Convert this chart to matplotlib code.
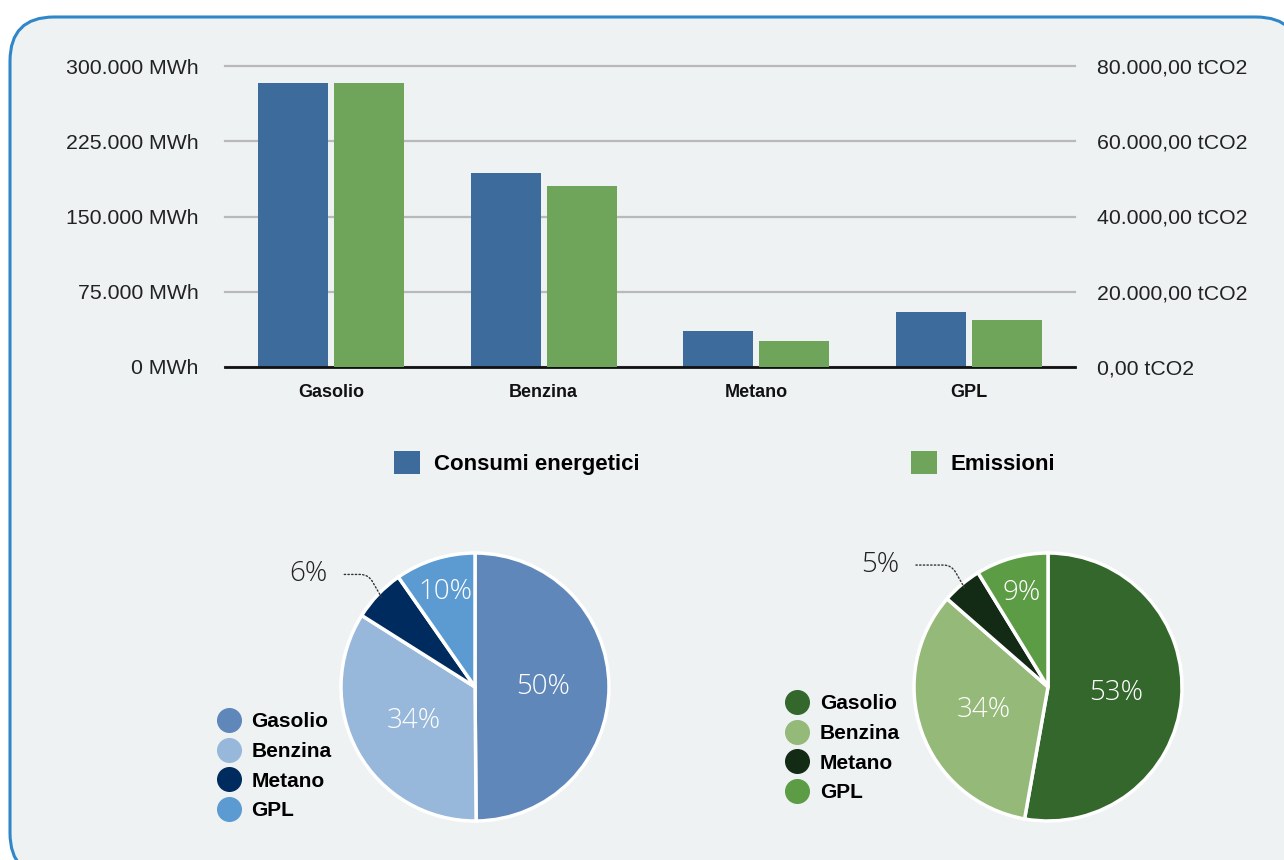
import numpy as np
import matplotlib
matplotlib.use("Agg")
import matplotlib.pyplot as plt
from matplotlib import font_manager
from matplotlib.font_manager import FontProperties
from matplotlib.patches import FancyBboxPatch
from matplotlib.lines import Line2D

# Dati
categorie = ["Gasolio", "Benzina", "Metano", "GPL"]
consumi_mwh = [283000, 193500, 36000, 55000]
emissioni_tco2 = [75500, 48100, 6900, 12500]

tick_mwh = [0, 75000, 150000, 225000, 300000]
tick_tco2 = [0, 20000, 40000, 60000, 80000]

col_consumi = "#3d6b9b"
col_emissioni = "#6fa55a"
colori_pie_consumi = ["#5f87b9", "#97b8da", "#002b5e", "#5b9bd1"]
colori_pie_emissioni = ["#33672c", "#94b978", "#132b15", "#5c9c45"]

W, H = 1284, 860


def has_font(name):
    try:
        font_manager.findfont(name, fallback_to_default=False)
        return True
    except Exception:
        return False


def light_font():
    # cerca un carattere "light" per le percentuali delle torte
    for fam in ("Roboto", "Lato", "Open Sans"):
        try:
            f = font_manager.findfont(FontProperties(family=fam, weight="light"),
                                      fallback_to_default=False)
            if "light" in f.lower():
                return fam, "light"
        except Exception:
            pass
    return FONT, "normal"


FONT = "Liberation Sans" if has_font("Liberation Sans") else "DejaVu Sans"
FONT_NARROW = "Liberation Sans Narrow" if has_font("Liberation Sans Narrow") else FONT
PCT_FAM, PCT_W = light_font()
plt.rcParams["font.family"] = [FONT, "DejaVu Sans"]


def px_rect(x0, y0, x1, y1):
    # rettangolo in pixel (origine in alto a sinistra) -> coordinate figura
    return [x0 / W, 1 - y1 / H, (x1 - x0) / W, (y1 - y0) / H]


def fmt_mwh(v):
    return f"{v:,.0f}".replace(",", ".") + " MWh"


def fmt_tco2(v):
    s = f"{v:,.2f}".replace(",", "X").replace(".", ",").replace("X", ".")
    return s + " tCO2"


fig = plt.figure(figsize=(W / 100, H / 100), dpi=100)
fig.patch.set_facecolor("white")

# Riquadro di sfondo arrotondato
bg = fig.add_axes([0, 0, 1, 1], zorder=-5)
bg.set_xlim(0, W)
bg.set_ylim(H, 0)
bg.axis("off")
bg.add_patch(FancyBboxPatch((10, 17), 1290, 860, boxstyle="round,pad=0,rounding_size=44",
                            facecolor="#eef2f3", edgecolor="#2f86c8", linewidth=2.2))

# ---------------- Istogramma ----------------
ax = fig.add_axes(px_rect(225, 66, 1075, 367))
ax2 = ax.twinx()
x = np.arange(len(categorie))
larg = 0.33
b1 = ax.bar(x - 0.178, consumi_mwh, width=larg, color=col_consumi, label="Consumi energetici", zorder=3)
b2 = ax2.bar(x + 0.178, emissioni_tco2, width=larg, color=col_emissioni, label="Emissioni", zorder=3)

ax.set_xlim(-0.5, len(categorie) - 0.5)
ax.set_ylim(0, 300000)
ax2.set_ylim(0, 80000)
ax.set_yticks(tick_mwh)
ax.set_yticklabels([fmt_mwh(v) for v in tick_mwh])
ax2.set_yticks(tick_tco2)
ax2.set_yticklabels([fmt_tco2(v) for v in tick_tco2])
ax.set_xticks(x)
ax.set_xticklabels(categorie, fontfamily=FONT_NARROW, fontweight="bold")

for a in (ax, ax2):
    a.set_facecolor("none")
    for s in ("top", "left", "right", "bottom"):
        a.spines[s].set_visible(False)
    a.tick_params(length=0)
    a.tick_params(axis="y", labelsize=15.3, colors="#222222")
ax.spines["bottom"].set_visible(True)
ax.spines["bottom"].set_linewidth(2)
ax.spines["bottom"].set_color("#111111")
ax.spines["bottom"].set_zorder(4)
ax.tick_params(axis="y", pad=19)
ax2.tick_params(axis="y", pad=16)
ax.tick_params(axis="x", pad=12, labelsize=13, colors="#111111")
ax.grid(axis="y", color="#b9b9b9", linewidth=1.6, zorder=0)
ax.set_axisbelow(True)
for gl in ax.get_ygridlines():
    gl.set_clip_on(False)

leg_font = dict(family=FONT_NARROW, weight="bold", size=16)
for handle, xpix in ((b1, 394), (b2, 911)):
    fig.legend([handle], [handle.get_label()], loc="center left",
               bbox_to_anchor=(xpix / W, 1 - 463 / H), frameon=False,
               borderpad=0, borderaxespad=0, handlelength=1.17, handleheight=1.17,
               handletextpad=0.62, prop=leg_font)


# ---------------- Torte ----------------
def torta(cx, cy, r, valori, colori, dist, esterno, leg_pos, leg_pad):
    pa = fig.add_axes(px_rect(cx - r, cy - r, cx + r, cy + r))
    wedges, _ = pa.pie(valori, colors=colori, startangle=90, counterclock=False, radius=1,
                       wedgeprops=dict(edgecolor="white", linewidth=2.5))
    pa.set_xlim(-1, 1)
    pa.set_ylim(-1, 1)
    pa.set_aspect("equal")
    pa.axis("off")
    tot = sum(valori)
    for i, w in enumerate(wedges):
        pct = 100 * valori[i] / tot
        ang = np.deg2rad((w.theta1 + w.theta2) / 2)
        if dist[i] is None:
            tx, ty = esterno
            ex, ey = np.cos(ang) * 0.96, np.sin(ang) * 0.96
            pa.annotate(f"{pct:.0f}%", xy=(ex, ey), xytext=(tx, ty),
                        ha="right", va="center", fontsize=20, color="#222222",
                        fontfamily=PCT_FAM, fontweight=PCT_W,
                        annotation_clip=False,
                        arrowprops=dict(arrowstyle="-", linestyle=":", color="#333333", lw=1,
                                        shrinkA=10, shrinkB=0,
                                        connectionstyle="angle,angleA=0,angleB=-60,rad=8"))
        else:
            pa.text(np.cos(ang) * dist[i], np.sin(ang) * dist[i], f"{pct:.0f}%",
                    ha="center", va="center", fontsize=20, color="white",
                    fontfamily=PCT_FAM, fontweight=PCT_W)
    handles = [Line2D([], [], marker="o", linestyle="", markersize=17, color=c) for c in colori]
    fig.legend(handles, categorie, loc="upper left", bbox_to_anchor=leg_pos, frameon=False,
               borderpad=0, borderaxespad=0, handlelength=0.9, handletextpad=leg_pad,
               labelspacing=0.52, prop=dict(family=FONT_NARROW, weight="bold", size=15))


torta(475, 687, 134, consumi_mwh, colori_pie_consumi, [0.51, 0.52, None, 0.74],
      (-1.1, 0.84), (219.5 / W, 1 - 712 / H), 0.62)
torta(1048, 687, 134, emissioni_tco2, colori_pie_emissioni, [0.51, 0.51, None, 0.73],
      (-1.11, 0.91), (787.5 / W, 1 - 694 / H), 0.66)

fig.savefig("out.png", dpi=100)
